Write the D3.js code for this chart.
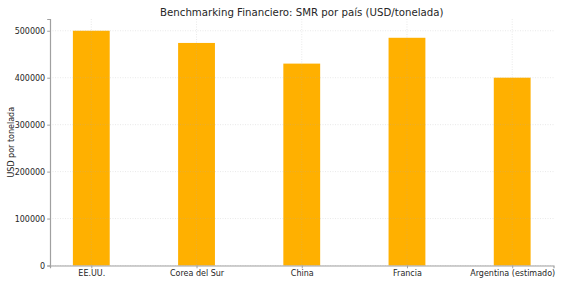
<!DOCTYPE html>
<html><head><meta charset="utf-8">
<script src="https://cdn.jsdelivr.net/npm/d3@7"></script>
<style>body{margin:0;background:#fff}svg{display:block;font-family:"DejaVu Sans",sans-serif}</style>
</head><body><svg id="c" width="567" height="283"></svg>
<script>
const categories = ["EE.UU.", "Corea del Sur", "China", "Francia", "Argentina (estimado)"];
const values = [500000, 474000, 430000, 485000, 400000];
const yTicks = [0, 100000, 200000, 300000, 400000, 500000];
const title = "Benchmarking Financiero: SMR por país (USD/tonelada)";
const yLabel = "USD por tonelada";

const svg = d3.select("#c");
const L = 50, R = 553.5, T = 19, B = 265.5;
const barW = 0.35;
const x = d3.scaleLinear().domain([-0.3925, categories.length - 1 + 0.3925]).range([L, R]);
const y = d3.scaleLinear().domain([0, 525000]).range([B, T]);

svg.append("text").attr("x", (L + R) / 2).attr("y", 15.5).attr("text-anchor", "middle")
  .attr("font-size", 10.2).attr("fill", "#262626").text(title);

svg.selectAll("rect.bar").data(values).enter().append("rect")
  .attr("x", (d, i) => x(i - barW / 2)).attr("width", (d, i) => x(i + barW / 2) - x(i - barW / 2))
  .attr("y", d => y(d)).attr("height", d => B - y(d)).attr("fill", "#ffb000");

const g = svg.append("g");
yTicks.forEach(t => g.append("line").attr("x1", L).attr("x2", R).attr("y1", y(t)).attr("y2", y(t))
  .attr("stroke", "#b0b0b0").attr("stroke-opacity", 0.35).attr("stroke-width", 0.8).attr("stroke-dasharray", "1,1.5"));
categories.forEach((c, i) => g.append("line").attr("x1", x(i)).attr("x2", x(i)).attr("y1", T).attr("y2", B)
  .attr("stroke", "#b0b0b0").attr("stroke-opacity", 0.35).attr("stroke-width", 0.8).attr("stroke-dasharray", "1,1.5"));

const ya = svg.append("g").attr("transform", `translate(${L},0)`)
  .call(d3.axisLeft(y).tickValues(yTicks).tickFormat(d3.format("d")).tickSize(2.8).tickPadding(2));
const xa = svg.append("g").attr("transform", `translate(0,${B})`)
  .call(d3.axisBottom(x).tickValues(d3.range(categories.length)).tickFormat(i => categories[i]).tickSize(2.8).tickPadding(2.5));
[ya, xa].forEach(a => {
  a.select(".domain").attr("stroke", "#a0a0a0").attr("stroke-width", 1.2);
  a.selectAll(".tick line").attr("stroke", "#a0a0a0");
  a.selectAll(".tick text").attr("font-size", 8).attr("fill", "#262626").attr("font-family", "DejaVu Sans");
});
svg.append("text").attr("transform", `translate(14,${(T + B) / 2}) rotate(-90)`).attr("text-anchor", "middle")
  .attr("font-size", 8).attr("fill", "#262626").text(yLabel);
</script></body></html>
